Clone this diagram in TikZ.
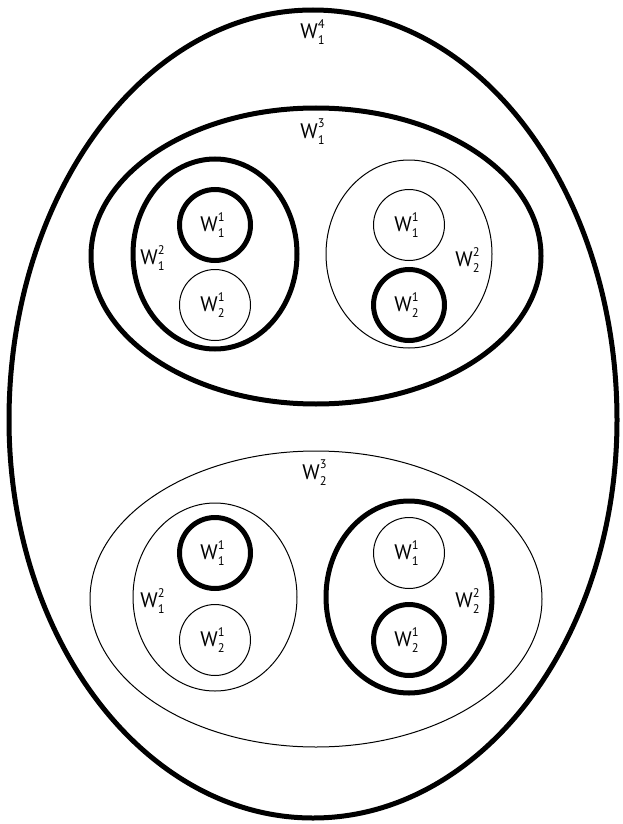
\documentclass[tikz,border=0pt]{standalone}
\usepackage{fontspec}
\setmainfont{PT Sans}
\usetikzlibrary{positioning}
\newcommand{\wsub}[2]{W\kern0.3pt\rlap{\raisebox{0.5em}{\fontsize{12.5}{12}\selectfont #2}}\raisebox{-0.3em}{\fontsize{12.5}{12}\selectfont #1}\kern5pt}
\tikzset{
  heavy/.style={draw=black,line width=5pt},
  light/.style={draw=black,line width=1pt},
  cell/.style={circle,minimum size=71pt,inner sep=0pt,outer sep=0pt,font=\fontsize{21}{21}\selectfont},
  lab/.style={font=\fontsize{21}{21}\selectfont,inner sep=0pt},
}
\begin{document}
\begin{tikzpicture}[x=1pt,y=-1pt]
  \path[use as bounding box] (0,0) rectangle (622,824);

  % outer set (egg) and the two level-3 sets
  \draw[heavy] (9,420) arc[start angle=180,end angle=360,x radius=304,y radius=410]
    arc[start angle=0,end angle=180,x radius=304,y radius=398] -- cycle;
  \node[lab] (w41) at (315,32) {\wsub14};
  \draw[heavy] (316,256) ellipse [x radius=225, y radius=148];
  \node[lab] (w31) at (315,132) {\wsub13};
  \draw[light] (316,599) ellipse [x radius=226, y radius=148];
  \node[lab] (w32) at (317,473) {\wsub23};

  % upper group
  \draw[heavy] (215,254) ellipse [x radius=82, y radius=95];
  \node[lab] (w21a) at (155,258) {\wsub12};
  \node[cell,heavy] (w11a) at (215,225) {\wsub11};
  \node[cell,light] (w12a) at (215,305) {\wsub21};
  \draw[light] (409,254) ellipse [x radius=83, y radius=94];
  \node[lab] (w22a) at (470,260) {\wsub22};
  \node[cell,light] (w11b) at (409,225) {\wsub11};
  \node[cell,heavy] (w12b) at (409,305) {\wsub21};

  % lower group
  \draw[light] (215,597) ellipse [x radius=82, y radius=94];
  \node[lab] (w21b) at (155,601) {\wsub12};
  \node[cell,heavy] (w11c) at (215,553) {\wsub11};
  \node[cell,light] (w12c) at (215,640) {\wsub21};
  \draw[heavy] (409,597) ellipse [x radius=83, y radius=96];
  \node[lab] (w22b) at (470,601) {\wsub22};
  \node[cell,light] (w11d) at (409,553) {\wsub11};
  \node[cell,heavy] (w12d) at (409,640) {\wsub21};
\end{tikzpicture}
\end{document}
